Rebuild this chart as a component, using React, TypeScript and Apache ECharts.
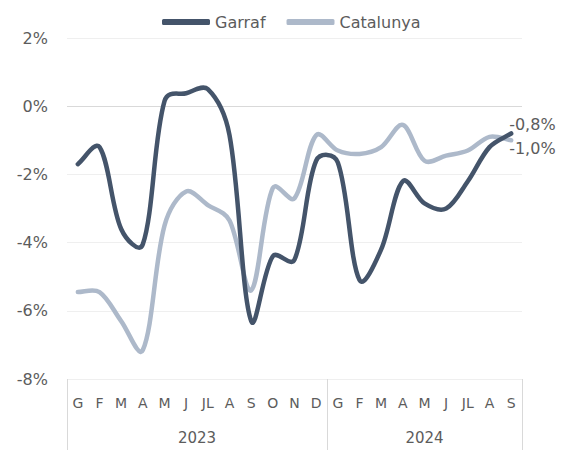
import React, { useEffect, useRef } from "react";
import * as echarts from "echarts";

const months = ["G","F","M","A","M","J","JL","A","S","O","N","D","G","F","M","A","M","J","JL","A","S"];
const garraf = [-1.7,-1.2,-3.6,-4.05,0.15,0.38,0.5,-0.85,-6.3,-4.4,-4.5,-1.6,-1.65,-5.1,-4.2,-2.2,-2.85,-3.0,-2.2,-1.2,-0.8];
const catalunya = [-5.45,-5.45,-6.3,-7.15,-3.5,-2.5,-2.9,-3.35,-5.4,-2.4,-2.7,-0.85,-1.3,-1.4,-1.2,-0.55,-1.6,-1.45,-1.3,-0.9,-1.0];
const yearLabels = ["2023", "2024"];
const yearBounds = [0, 12, 21];

const FONT = "'DejaVu Sans', sans-serif";
const TXT = "#5c5c5c";
const C_GARRAF = "#44546a";
const C_CAT = "#adb9ca";

const fmt = (v: number) => v.toFixed(1).replace(".", ",") + "%";

function smoothPath(pts: number[][]): string {
  const n = pts.length;
  const alpha = 0.75;
  const k = 1 / 3;
  const cpOut: number[][] = [];
  const cpIn: number[][] = [];
  for (let i = 0; i < n; i++) {
    const prev = pts[Math.max(0, i - 1)];
    const next = pts[Math.min(n - 1, i + 1)];
    const p = pts[i];
    const vx = (next[0] - prev[0]) * k;
    const vy = (next[1] - prev[1]) * k;
    const d0 = Math.hypot(p[0] - prev[0], p[1] - prev[1]);
    const d1 = Math.hypot(next[0] - p[0], next[1] - p[1]);
    const sum = d0 + d1 || 1;
    const w0 = alpha * (d0 / sum) + (1 - alpha) * 0.5;
    const w1 = alpha * (d1 / sum) + (1 - alpha) * 0.5;
    cpIn.push([p[0] - vx * w0, p[1] - vy * w0]);
    cpOut.push([p[0] + vx * w1, p[1] + vy * w1]);
  }
  let d = `M${pts[0][0]},${pts[0][1]}`;
  for (let i = 0; i < n - 1; i++) {
    const a = cpOut[i];
    const b = cpIn[i + 1];
    const p2 = pts[i + 1];
    d += ` C${a[0]},${a[1]} ${b[0]},${b[1]} ${p2[0]},${p2[1]}`;
  }
  return d;
}

function makeSeries(name: string, values: number[], color: string, labelDy: number, z: number) {
  return {
    name,
    type: "custom",
    coordinateSystem: "cartesian2d",
    data: values.map((v, i) => [i, v]),
    encode: { x: 0, y: 1 },
    itemStyle: { color },
    z,
    renderItem: (params: any, api: any) => {
      if (params.dataIndex !== 0) return { type: "group", children: [] };
      const pts = values.map((v, i) => api.coord([i, v]));
      const last = pts[pts.length - 1];
      return {
        type: "group",
        children: [
          {
            type: "path",
            shape: { pathData: smoothPath(pts) },
            style: { stroke: color, lineWidth: 4.5, fill: "none", lineCap: "round", lineJoin: "round" },
          },
          {
            type: "text",
            x: last[0] - 2,
            y: last[1] + labelDy,
            style: {
              text: fmt(values[values.length - 1]),
              fill: TXT,
              font: `16px ${FONT}`,
              align: "left",
              verticalAlign: "middle",
            },
          },
        ],
      };
    },
  };
}

export default function App() {
  const ref = useRef<HTMLDivElement>(null);
  useEffect(() => {
    const chart = echarts.init(ref.current!, null, { renderer: "svg" });
    const yearCenters = [(yearBounds[0] + yearBounds[1]) / 2, (yearBounds[1] + yearBounds[2]) / 2];
    chart.setOption({
      animation: false,
      textStyle: { fontFamily: FONT },
      legend: {
        top: 9,
        left: 157,
        itemWidth: 48,
        itemHeight: 6,
        itemGap: 21,
        icon: "roundRect",
        textStyle: { fontSize: 16, color: TXT, fontFamily: FONT },
        data: [
          { name: "Garraf", itemStyle: { color: C_GARRAF } },
          { name: "Catalunya", itemStyle: { color: C_CAT } },
        ],
      },
      grid: { left: 67, right: 52, top: 38, bottom: 71 },
      xAxis: [
        {
          type: "category",
          data: months,
          boundaryGap: true,
          axisLine: { show: false },
          axisTick: { show: false },
          axisLabel: { color: TXT, fontSize: 14, margin: 17, interval: 0, fontFamily: FONT },
        },
        {
          type: "value",
          position: "bottom",
          min: 0,
          max: 21,
          axisLine: { show: false },
          splitLine: { show: false },
          axisTick: { show: true, customValues: yearBounds, length: 72, lineStyle: { color: "#d9d9d9", width: 1 } },
          axisLabel: {
            customValues: yearCenters,
            formatter: (v: number) => (v < yearBounds[1] ? yearLabels[0] : yearLabels[1]),
            color: TXT,
            fontSize: 15,
            margin: 51,
            fontFamily: FONT,
          },
        },
      ],
      yAxis: {
        type: "value",
        min: -8,
        max: 2,
        interval: 2,
        axisLine: { show: false },
        axisTick: { show: false },
        axisLabel: { formatter: (v: number) => v + "%", color: TXT, fontSize: 16, margin: 19, fontFamily: FONT },
        splitLine: {
          lineStyle: {
            color: ["#efefef", "#efefef", "#efefef", "#efefef", "#d9d9d9", "#efefef"],
            width: 1,
          },
        },
      },
      series: [
        makeSeries("Catalunya", catalunya, C_CAT, 8, 2),
        makeSeries("Garraf", garraf, C_GARRAF, -9, 3),
      ],
    });
    return () => chart.dispose();
  }, []);
  return <div ref={ref} style={{ position: "absolute", left: 0, top: 0, width: 574, height: 450 }} />;
}
